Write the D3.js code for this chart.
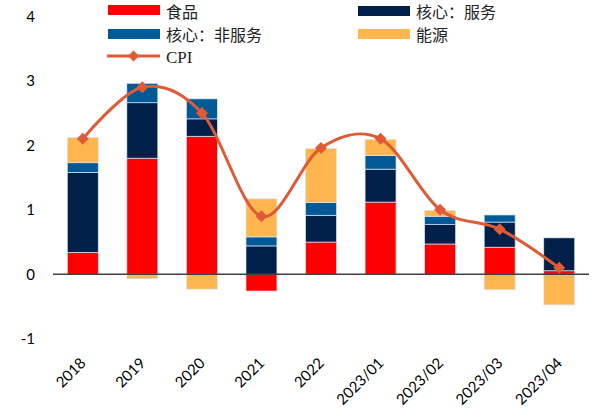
<!DOCTYPE html>
<html><head><meta charset="utf-8">
<script src="https://cdn.jsdelivr.net/npm/d3@7"></script>
<style>html,body{margin:0;padding:0;background:#fff;}svg{display:block;}</style>
</head><body>
<svg id="chart" width="596" height="409"></svg>
<script>
const categories = ["2018","2019","2020","2021","2022","2023/01","2023/02","2023/03","2023/04"];
const food       = [0.34, 1.80, 2.14, -0.26, 0.50, 1.12, 0.47, 0.42, 0.055];
const services   = [1.24, 0.86, 0.27, 0.44, 0.415, 0.51, 0.30, 0.39, 0.51];
const nonService = [0.15, 0.30, 0.31, 0.14, 0.20, 0.21, 0.13, 0.11, 0.0];
const energy     = [0.39, -0.07, -0.23, 0.59, 0.835, 0.25, 0.09, -0.24, -0.475];
const cpi        = [2.1, 2.9, 2.5, 0.9, 1.96, 2.1, 1.0, 0.7, 0.1];
const yTicks     = [-1, 0, 1, 2, 3, 4];
const seriesNames = ["食品","核心：服务","核心：非服务","能源"];

const colors = {"食品":"#FF0000","核心：服务":"#00204A","核心：非服务":"#015A96","能源":"#FFB64E"};
const cpiColor = "#E05A36";

const svg = d3.select("#chart");
const x = d3.scaleBand().domain(categories).range([53, 589]).paddingInner(0.48).paddingOuter(0.24);
const y = d3.scaleLinear().domain([-1, 4]).range([338.8, 16.3]);

const rows = categories.map((c, i) => ({cat: c, "食品": food[i], "核心：服务": services[i], "核心：非服务": nonService[i], "能源": energy[i]}));
const stack = d3.stack().keys(seriesNames).offset(d3.stackOffsetDiverging);
const layers = stack(rows);

svg.append("g").selectAll("g").data(layers).join("g")
  .attr("fill", d => colors[d.key])
  .selectAll("rect").data(d => d).join("rect")
  .attr("x", d => x(d.data.cat))
  .attr("width", x.bandwidth())
  .attr("y", d => y(Math.max(d[0], d[1])))
  .attr("height", d => Math.abs(y(d[0]) - y(d[1])))
  .attr("stroke", "#dbe5f0").attr("stroke-width", 0.7);

// zero line
svg.append("line").attr("x1", 53).attr("x2", 589).attr("y1", y(0)).attr("y2", y(0))
  .attr("stroke", "#404040").attr("stroke-width", 1.6);

// y tick labels
svg.append("g").selectAll("text").data(yTicks).join("text")
  .attr("x", 35).attr("y", d => y(d)).attr("dy", "0.35em")
  .attr("text-anchor", "end")
  .style("font-family", "Lato, 'Open Sans', sans-serif").style("font-size", "15px").attr("fill", "#000")
  .text(d => d);

// x labels
svg.append("g").selectAll("text").data(categories).join("text")
  .attr("transform", d => `translate(${x(d) + x.bandwidth()/2 + 4},364) rotate(-45)`)
  .attr("text-anchor", "end")
  .style("font-family", "Lato, 'Open Sans', sans-serif").style("font-size", "15px").attr("fill", "#000")
  .text(d => d);

// CPI line
const pts = categories.map((c, i) => [x(c) + x.bandwidth()/2, y(cpi[i])]);
svg.append("path").attr("d", d3.line().curve(d3.curveCardinal.tension(0))(pts))
  .attr("fill", "none").attr("stroke", cpiColor).attr("stroke-width", 3);
svg.append("g").selectAll("path").data(pts).join("path")
  .attr("transform", d => `translate(${d[0]},${d[1]}) rotate(45)`)
  .attr("d", d3.symbol().type(d3.symbolSquare).size(72))
  .attr("fill", cpiColor);

// legend
const lg = svg.append("g");
const cjk = "'Noto Sans CJK SC', sans-serif";
const legendItems = [
  {name: "食品", sx: 108, sy: 5, tx: 166, ty: 11},
  {name: "核心：服务", sx: 358, sy: 6, tx: 416, ty: 11},
  {name: "核心：非服务", sx: 108, sy: 29, tx: 166, ty: 34},
  {name: "能源", sx: 358, sy: 29, tx: 416, ty: 34}
];
legendItems.forEach(it => {
  lg.append("rect").attr("x", it.sx).attr("y", it.sy).attr("width", 52).attr("height", 10).attr("fill", colors[it.name]);
  lg.append("text").attr("x", it.tx).attr("y", it.ty).attr("dominant-baseline", "central")
    .style("font-family", cjk).style("font-size", "16px").attr("fill", "#222").text(it.name);
});
lg.append("line").attr("x1", 107).attr("x2", 160).attr("y1", 56).attr("y2", 56).attr("stroke", cpiColor).attr("stroke-width", 3);
lg.append("path").attr("transform", "translate(133.5,56) rotate(45)").attr("d", d3.symbol().type(d3.symbolSquare).size(60)).attr("fill", cpiColor);
lg.append("text").attr("x", 166).attr("y", 57).attr("dy", "0.35em")
  .style("font-family", "'Liberation Serif', 'Times New Roman', serif").style("font-size", "17px").attr("fill", "#222").text("CPI");
</script>
</body></html>
